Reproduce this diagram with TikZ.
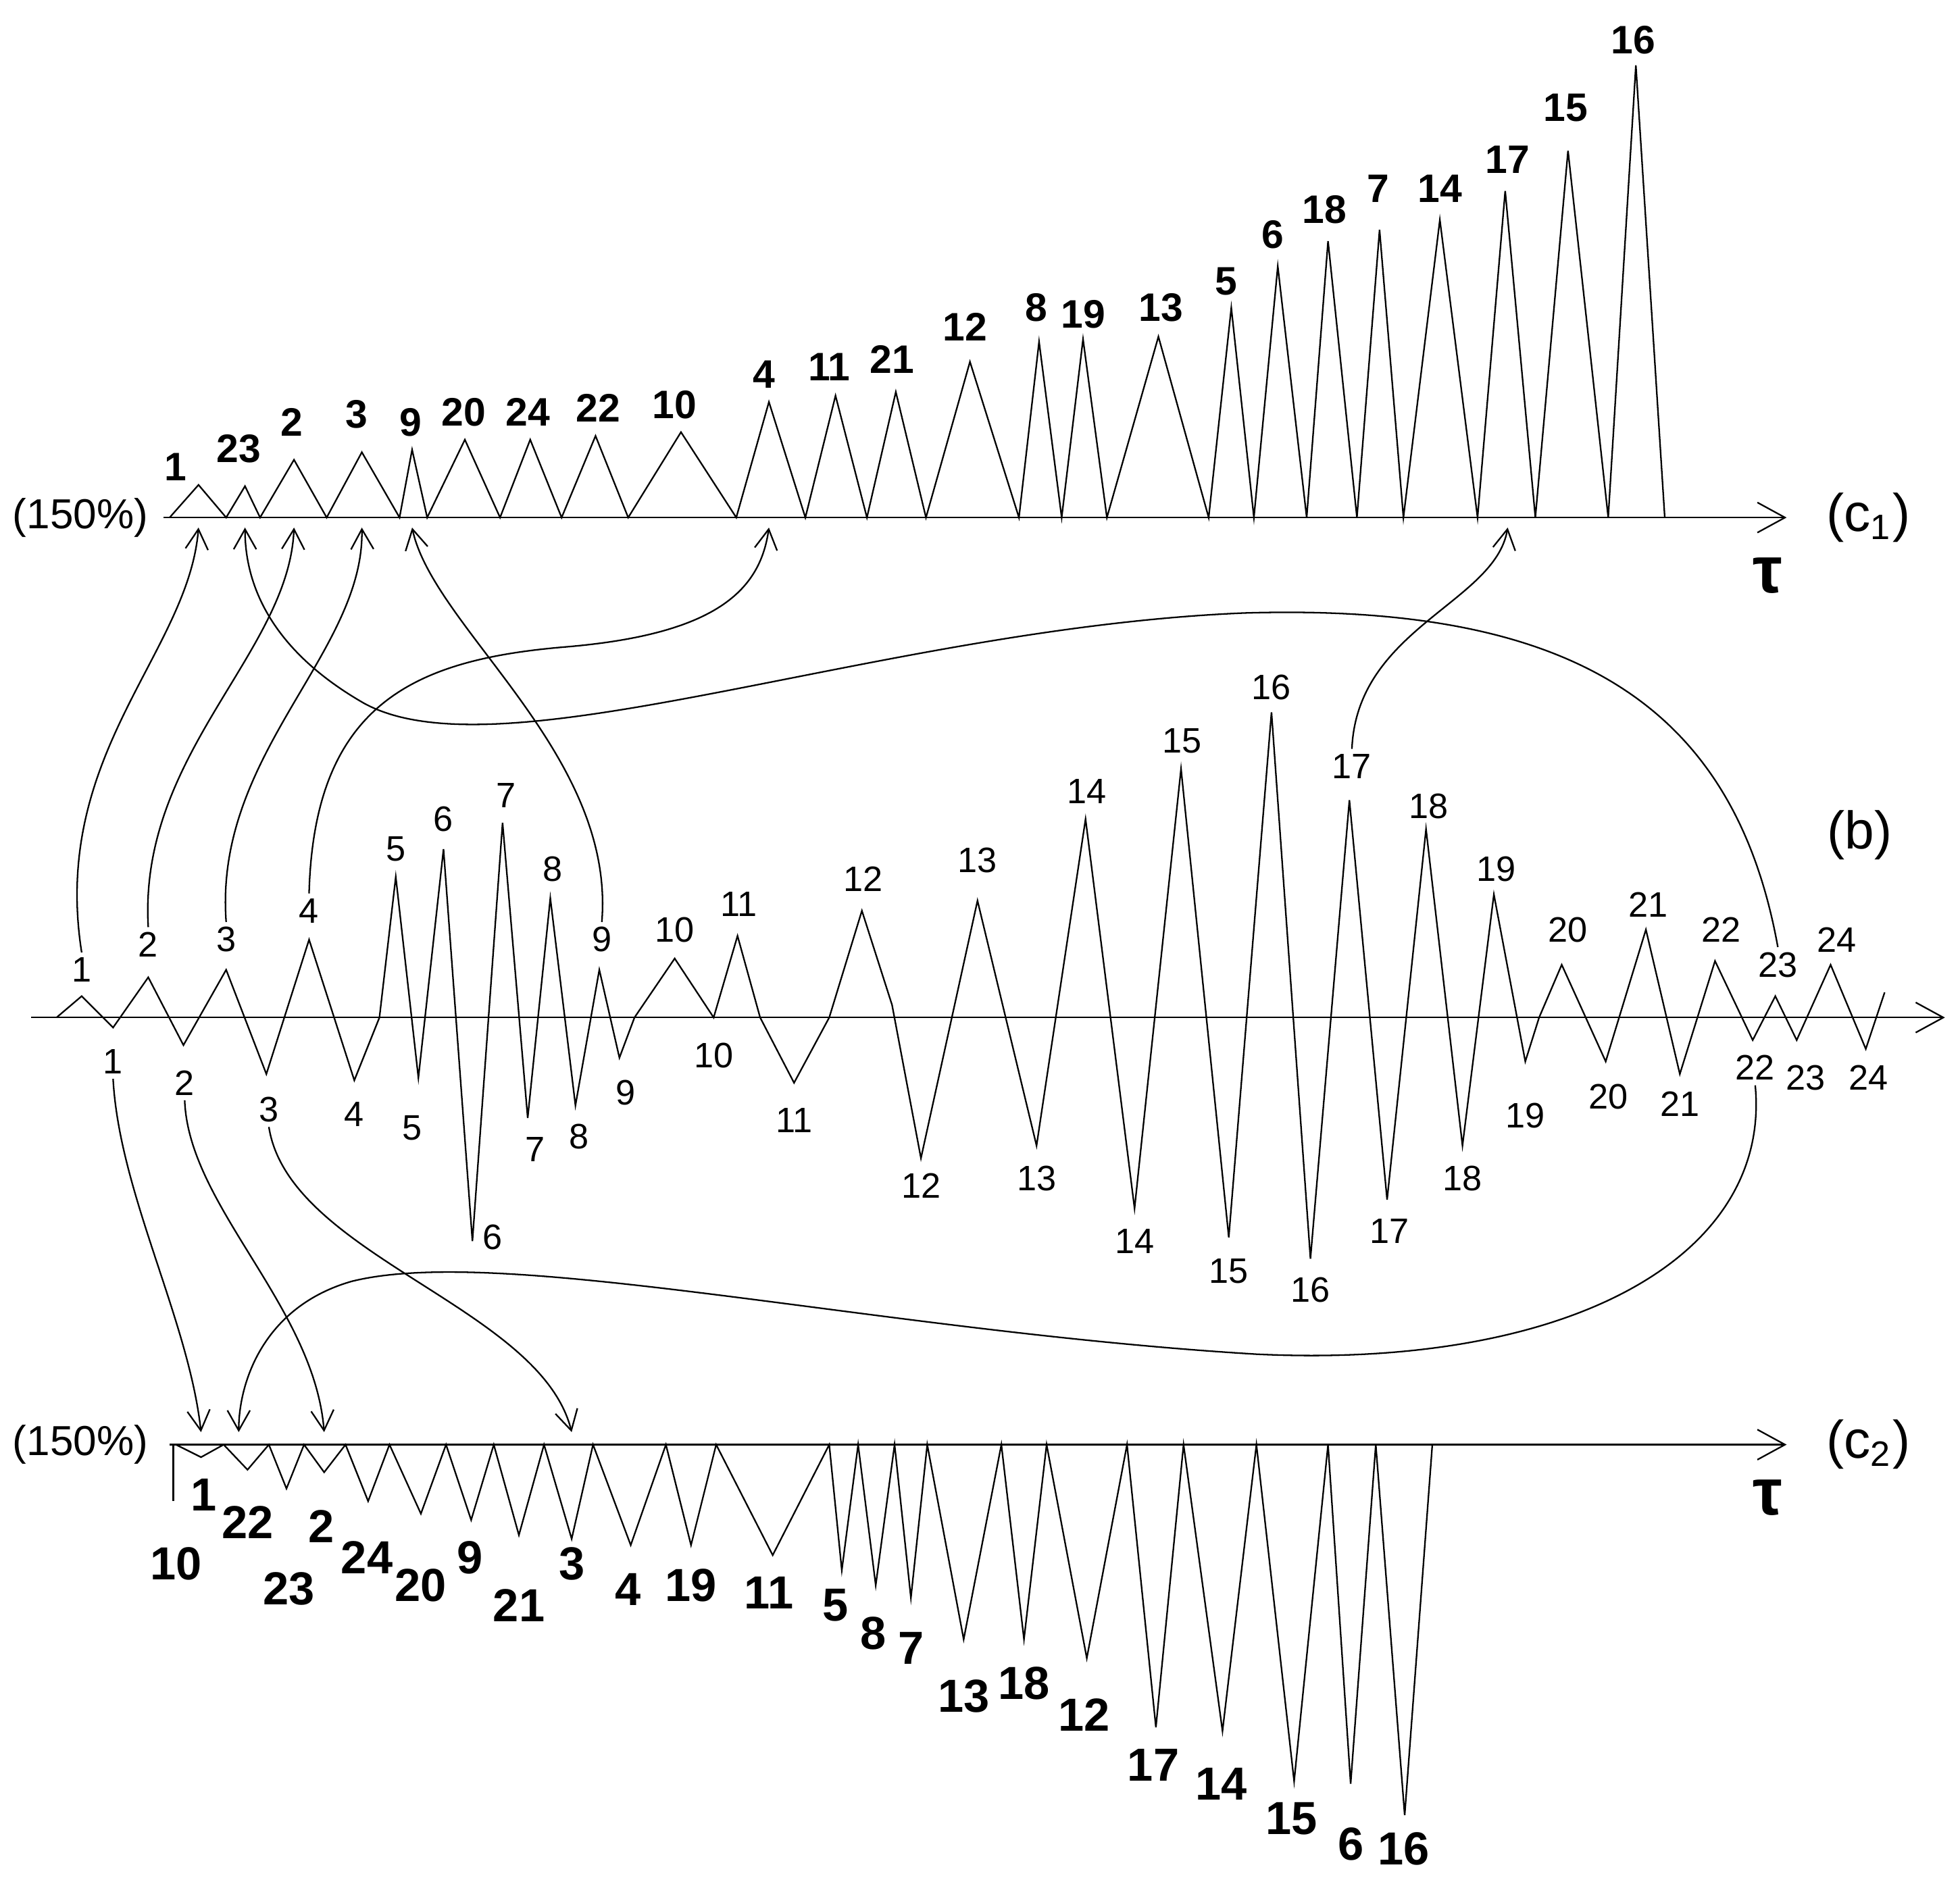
\documentclass[tikz,border=0pt]{standalone}
\usepackage{fontspec}
\setmainfont{Liberation Sans}
\usetikzlibrary{arrows.meta}
\begin{document}
\begin{tikzpicture}[x=0.1mm,y=-0.1mm,line width=0.35pt,
  ax/.style={-{Straight Barb[length=2.2mm,width=2.4mm]}},
  cv/.style={-{Straight Barb[length=1.6mm,width=1.8mm]}},
  lb/.style={font=\fontsize{8}{9}\selectfont,inner sep=1pt},
  lt/.style={font=\fontsize{9}{10}\selectfont\bfseries,inner sep=1pt},
  lc/.style={font=\fontsize{10.5}{12}\selectfont\bfseries,inner sep=1pt},
  tag/.style={font=\fontsize{12}{13}\selectfont,inner sep=1pt},
  pct/.style={font=\fontsize{9.5}{11}\selectfont,inner sep=1pt},
  taus/.style={font=\fontsize{15}{15}\selectfont\bfseries,inner sep=1pt}]
\useasboundingbox (0,0) rectangle (1560,1498);
% c1
\draw[ax] (130,412) -- (1422,412);
\draw plot coordinates {(135,412)(158,386)(180,412)(195,387)(207,412)(234,366)(260,412)(288,360)(318,412)(328,358)(340,412)(370,350)(398,412)(422,350)(447,412)(474,347)(500,412)(542,344)(586,412)(612,320)(641,412)(665,315)(690,412)(713,312)(737,412)(772,288)(811,412)(827,272)(845,412)(862,270)(881,412)(922,268)(962,412)(980,245)(998,412)(1017,212)(1040,412)(1057,192)(1080,412)(1098,183)(1117,412)(1146,175)(1176,412)(1198,152)(1222,412)(1248,120)(1280,412)(1302,52)(1325,412)};
\foreach \x/\y/\t in {140/372/1,190/357/23,232/336/2,284/330/3,327/336/9,369/328/20,420/328/24,476/325/22,537/322/10,608/298/4,660/292/11,710/286/21,768/260/12,825/245/8,862/250/19,924/245/13,976/224/5,1013/187/6,1054/167/18,1097/150/7,1146/150/14,1200/127/17,1246/86/15,1300/32/16}
  \node[lt] (t\t) at (\x,\y) {\t};
\node[pct] (p1) at (64,412) {(150\%)};
\node[tag] (c1) at (1487,412) {(c\textsubscript{1})};
\node[taus] (tau1) at (1407,458) {τ};
% b
\draw[ax] (25,810) -- (1548,810);
\draw plot coordinates {(45,810)(65,793)(90,818)(118,778)(146,832)(180,772)(212,855)(246,748)(282,860)(302,810)(315,698)(333,858)(353,676)(376,988)(400,655)(420,890)(438,715)(458,880)(477,772)(493,842)(505,810)(537,763)(568,810)(587,745)(605,810)(632,862)(660,810)(686,725)(710,800)(733,922)(778,717)(825,912)(864,652)(903,962)(940,612)(978,985)(1012,567)(1043,1002)(1074,637)(1104,955)(1135,660)(1164,912)(1189,712)(1214,845)(1225,810)(1243,768)(1278,845)(1310,740)(1337,855)(1365,765)(1395,828)(1413,793)(1430,828)(1457,768)(1485,835)(1500,790)};
\foreach \x/\y/\t in {65/772/1,118/752/2,180/748/3,246/725/4,315/676/5,353/652/6,403/633/7,440/692/8,479/748/9,537/740/10,588/720/11,687/700/12,778/685/13,865/630/14,941/590/15,1012/547/16,1076/610/17,1137/642/18,1191/692/19,1248/740/20,1312/720/21,1370/740/22,1415/768/23,1462/748/24}
  \node[lb] (bp\t) at (\x,\y) {\t};
\foreach \x/\y/\t in {90/845/1,147/862/2,214/883/3,282/887/4,328/898/5,392/985/6,426/915/7,461/905/8,498/870/9,568/840/10,632/892/11,733/944/12,825/938/13,903/988/14,978/1012/15,1043/1027/16,1106/980/17,1164/938/18,1214/888/19,1280/873/20,1337/879/21,1397/850/22,1437/858/23,1487/858/24}
  \node[lb] (bt\t) at (\x,\y) {\t};
\node[tag] (bl) at (1480,665) {(b)};
% c2
\draw[ax] (135,1150) -- (1422,1150);
\draw (138,1150) -- (138,1195);
\draw plot coordinates {(140,1150)(160,1160)(178,1150)(197,1170)(214,1150)(228,1185)(242,1150)(258,1172)(275,1150)(293,1195)(310,1150)(335,1205)(355,1150)(375,1210)(393,1150)(413,1222)(433,1150)(455,1225)(472,1150)(502,1230)(530,1150)(550,1230)(570,1150)(615,1238)(660,1150)(670,1250)(683,1150)(697,1262)(712,1150)(725,1272)(738,1150)(767,1305)(797,1150)(815,1305)(833,1150)(865,1320)(897,1150)(920,1375)(942,1150)(973,1378)(1000,1150)(1030,1418)(1057,1150)(1075,1420)(1095,1150)(1118,1445)(1140,1150)};
\foreach \x/\y/\t in {140/1245/10,162/1190/1,197/1212/22,230/1265/23,256/1215/2,292/1240/24,335/1262/20,374/1240/9,413/1278/21,455/1245/3,500/1265/4,550/1262/19,612/1268/11,665/1278/5,695/1300/8,725/1312/7,767/1350/13,815/1340/18,863/1365/12,918/1405/17,972/1420/14,1028/1448/15,1075/1468/6,1117/1472/16}
  \node[lc] (c\t) at (\x,\y) {\t};
\node[pct] (p2) at (64,1150) {(150\%)};
\node[tag] (c2) at (1487,1150) {(c\textsubscript{2})};
\node[taus] (tau2) at (1407,1192) {τ};
% curves
\coordinate (a1) at (158,420); \coordinate (a23) at (195,420); \coordinate (a2) at (234,420);
\coordinate (a3) at (288,420); \coordinate (a9) at (328,420); \coordinate (a4) at (612,420);
\coordinate (a17) at (1200,420);
\coordinate (d1) at (160,1140); \coordinate (d22) at (190,1140); \coordinate (d2) at (258,1140); \coordinate (d3) at (455,1140);
\draw[cv] (bp1.north) .. controls (40,600) and (150,520) .. (a1);
\draw[cv] (bp2.north) .. controls (110,600) and (230,520) .. (a2);
\draw[cv] (bp3.north) .. controls (170,600) and (290,520) .. (a3);
\draw[cv] (bp4.north) .. controls (250,560) and (330,525) .. (450,515) .. controls (570,505) and (605,470) .. (a4);
\draw[cv] (bp9.north) .. controls (490,600) and (345,500) .. (a9);
\draw[cv] (bp23.north) .. controls (1380,560) and (1250,480) .. (990,488) .. controls (700,500) and (400,620) .. (290,560) .. controls (220,520) and (195,470) .. (a23);
\draw[cv] (bp17.north) .. controls (1080,500) and (1190,480) .. (a17);
\draw[cv] (bt1.south) .. controls (95,950) and (150,1050) .. (d1);
\draw[cv] (bt2.south) .. controls (150,960) and (250,1040) .. (d2);
\draw[cv] (bt3.south) .. controls (230,1000) and (430,1040) .. (d3);
\draw[cv] (bt22.south) .. controls (1410,1000) and (1250,1090) .. (1000,1078) .. controls (700,1060) and (400,990) .. (280,1020) .. controls (210,1040) and (190,1100) .. (d22);
\end{tikzpicture}
\end{document}
